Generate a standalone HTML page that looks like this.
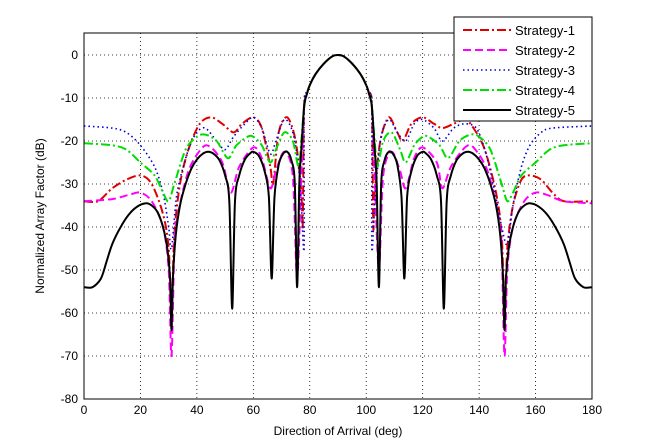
<!DOCTYPE html>
<html><head><meta charset="utf-8"><style>
body{margin:0;background:#fff;}
svg{display:block;font-family:"Liberation Sans",sans-serif;}
</style></head><body>
<svg id="chart" width="653" height="448">
<rect x="0" y="0" width="653" height="448" fill="#fff"/>
<g id="grid"></g>
<g id="series"></g>
<rect x="84" y="33" width="508" height="366" fill="none" stroke="#000" stroke-width="1"/>
<g id="ticks"></g>
<text x="338" y="435" font-size="12" text-anchor="middle">Direction of Arrival (deg)</text>
<text x="0" y="0" font-size="12" text-anchor="middle" transform="translate(44,216) rotate(-90)">Normalized Array Factor (dB)</text>
<g id="legend"></g>
</svg>
<script>
const xTicks=[0,20,40,60,80,100,120,140,160,180];
const yTicks=[0,-10,-20,-30,-40,-50,-60,-70,-80];
const seriesNames=["Strategy-1","Strategy-2","Strategy-3","Strategy-4","Strategy-5"];
const lobe=[[78,-12],[79,-9],[80,-7],[82,-4.5],[85,-2],[88,-0.3],[90,0],[92,-0.3],[95,-2],[98,-4.5],[100,-7],[101,-9],[102,-12]];
const s1=[[0,-34],[5,-34],[10,-31],[15,-29],[20,-28],[24,-30],[28,-37],[30,-45],[31,-60],[32,-42],[34,-30],[37,-22],[41,-16],[45,-14.5],[49,-16],[53,-18],[56,-16],[60,-14.5],[63,-17],[66,-26],[67,-30],[69,-18],[72,-14.5],[75,-20],[77,-32],[77.5,-40]];
const s1r=[[102.5,-40],[103,-32],[105,-20],[108,-14.5],[111,-18],[113,-20],[116,-16],[120,-14.5],[124,-16],[127,-17],[131,-16],[135,-15],[138,-17],[142,-22],[146,-32],[148,-42],[149,-60],[150,-45],[152,-35],[155,-29],[158,-28],[162,-29],[166,-32],[170,-34],[180,-34]];
const s2=[[0,-34],[10,-33.5],[16,-32.5],[20,-32],[24,-34],[28,-40],[30,-50],[31,-70],[32,-45],[33,-38],[37,-27],[42,-21.5],[45,-21.5],[49,-25],[52,-32],[55,-26],[60,-21.5],[63,-24],[66,-31],[68,-27],[71,-22.5],[74,-28],[75.5,-52],[77,-28]];
const s2r=[[103,-28],[104.5,-50],[106,-28],[109,-22.5],[112,-27],[114,-31],[117,-24],[120,-21.5],[125,-25],[127,-31],[130,-26],[135,-21.5],[138,-21.5],[143,-27],[147,-38],[148,-45],[149,-70],[150,-50],[152,-40],[156,-34],[160,-32],[164,-32.5],[170,-34],[180,-34.5]];
const s3=[[0,-16.5],[10,-17],[15,-18],[20,-21],[25,-26],[28,-32],[30,-40],[31,-45],[33,-32],[37,-22],[40,-18],[43,-17],[47,-20],[50,-22],[53,-19],[57,-16],[60,-14.5],[63,-17],[66,-23],[68,-20],[71,-15],[74,-18],[76,-26],[77,-35],[78,-45]];
const s3r=[[102,-45],[103,-35],[105,-20],[108,-15],[111,-18],[114,-20],[117,-16],[120,-15],[124,-17],[127,-20],[131,-17],[135,-16],[139,-17],[142,-22],[145,-30],[148,-40],[150,-44],[152,-35],[155,-26],[158,-21],[162,-18],[166,-17],[180,-16.5]];
const s4=[[0,-20.5],[10,-21],[15,-22],[20,-25],[25,-28],[28,-32],[30,-34],[32,-30],[36,-22],[40,-19],[43,-18.5],[47,-20],[51,-24],[54,-21],[58,-19],[60,-19],[63,-21],[66,-25],[68,-22],[71,-18],[74,-20],[76,-26],[77,-20]];
const s4r=[[103,-20],[104,-26],[106,-20],[109,-18],[112,-22],[114,-25],[117,-21],[120,-19],[122,-19],[126,-21],[129,-24],[133,-20],[137,-18.5],[140,-19],[144,-22],[148,-30],[150,-34],[152,-32],[155,-28],[160,-25],[165,-22],[170,-21],[180,-20.5]];
const s5=[[0,-54],[3,-54],[6,-52],[8,-48],[10,-44],[13,-40],[16,-37],[19,-35.2],[22,-34.5],[24,-35],[26,-36.5],[28,-40],[29.5,-45],[30.5,-52],[31,-64],[31.5,-52],[32.5,-42],[34,-35],[36,-30],[38,-26.5],[40,-24.3],[42,-23],[44,-22.5],[46,-23],[48,-24.5],[50,-28],[51.5,-34],[52.5,-59],[53.5,-34],[55,-28],[57,-24.3],[59,-22.8],[60,-22.5],[62,-23.5],[64,-27],[65.5,-33],[66.5,-52],[67.5,-33],[69,-25.5],[70.5,-23],[72,-22.5],[73.5,-24.5],[74.7,-30],[75.5,-54],[76.3,-30],[77,-22]];
const s5r=[[103,-22],[103.7,-30],[104.5,-54],[105.3,-30],[106.5,-24.5],[108,-22.5],[109.5,-23],[111,-25.5],[112.5,-33],[113.5,-52],[114.5,-33],[116,-27],[118,-23.5],[120,-22.5],[121,-22.8],[123,-24.3],[125,-28],[126.5,-34],[127.5,-59],[128.5,-34],[130,-28],[132,-24.5],[134,-23],[136,-22.5],[138,-23],[140,-24.3],[142,-26.5],[144,-30],[146,-35],[147.5,-42],[148.5,-52],[149,-64],[149.5,-52],[150.5,-45],[152,-40],[154,-36.5],[156,-35],[158,-34.5],[161,-35.2],[164,-37],[167,-40],[170,-44],[172,-48],[174,-52],[177,-54],[180,-54]];
const X=d=>84+d*508/180;
const Y=v=>55-v*43/10;
const NS="http://www.w3.org/2000/svg";
function mk(tag,attrs,parent){const e=document.createElementNS(NS,tag);for(const k in attrs)e.setAttribute(k,attrs[k]);parent.appendChild(e);return e;}
function smooth(pts){
  let d='M'+pts[0][0].toFixed(1)+','+pts[0][1].toFixed(1);
  for(let i=0;i<pts.length-1;i++){
    const p0=pts[Math.max(0,i-1)],p1=pts[i],p2=pts[i+1],p3=pts[Math.min(pts.length-1,i+2)];
    const t=0.15;
    const c1x=p1[0]+(p2[0]-p0[0])*t,c1y=p1[1]+(p2[1]-p0[1])*t;
    const c2x=p2[0]-(p3[0]-p1[0])*t,c2y=p2[1]-(p3[1]-p1[1])*t;
    d+=' C'+c1x.toFixed(1)+','+c1y.toFixed(1)+' '+c2x.toFixed(1)+','+c2y.toFixed(1)+' '+p2[0].toFixed(1)+','+p2[1].toFixed(1);
  }
  return d;
}
const grid=document.getElementById('grid'),ticks=document.getElementById('ticks');
xTicks.forEach(t=>{
  if(t>0&&t<180){const l=mk('line',{x1:X(t),x2:X(t),y1:33,y2:399,stroke:'#000','stroke-width':0.8,'stroke-dasharray':'1,3'},grid);
  
  }
  const tx=mk('text',{x:X(t),y:414,'font-size':12,'text-anchor':'middle'},ticks);tx.textContent=t;
  
  
});
yTicks.forEach(t=>{
  if(t>-80){const l=mk('line',{x1:84,x2:592,y1:Y(t),y2:Y(t),stroke:'#000','stroke-width':0.8,'stroke-dasharray':'1,3'},grid);
  
  }
  const tx=mk('text',{x:78,y:Y(t)+4,'font-size':12,'text-anchor':'end'},ticks);tx.textContent=t;
  
  
});
const styles=[
 {c:'#e00000',d:'9,3,2,3',w:2},
 {c:'#ff00ff',d:'8,4',w:2},
 {c:'#0000dd',d:'1.5,3',w:1.6},
 {c:'#00dd00',d:'9,3,2,3',w:2},
 {c:'#000',d:'',w:2}];
const data=[[s1,s1r],[s2,s2r],[s3,s3r],[s4,s4r],[s5,s5r]];
const sg=document.getElementById('series');
data.forEach((p,i)=>{
  const pts=p[0].concat(lobe,p[1]).map(q=>[X(q[0]),Y(q[1])]);
  const pl=mk('path',{d:smooth(pts),fill:'none',stroke:styles[i].c,'stroke-width':styles[i].w,'stroke-dasharray':styles[i].d,'stroke-linejoin':'round'},sg);
  
  
});
const lg=document.getElementById('legend');
const box=mk('rect',{x:454,y:17,width:138,height:104,fill:'#fff',stroke:'#000','stroke-width':1},lg);


seriesNames.forEach((n,i)=>{
  const y=30+i*20;
  const g=mk('g',{},lg);
  
  
  mk('line',{x1:463,x2:511,y1:y,y2:y,stroke:styles[i].c,'stroke-width':styles[i].w,'stroke-dasharray':styles[i].d},g);
  const t=mk('text',{x:515,y:y+5,'font-size':13},g);t.textContent=n;
});
</script>
</body></html>
